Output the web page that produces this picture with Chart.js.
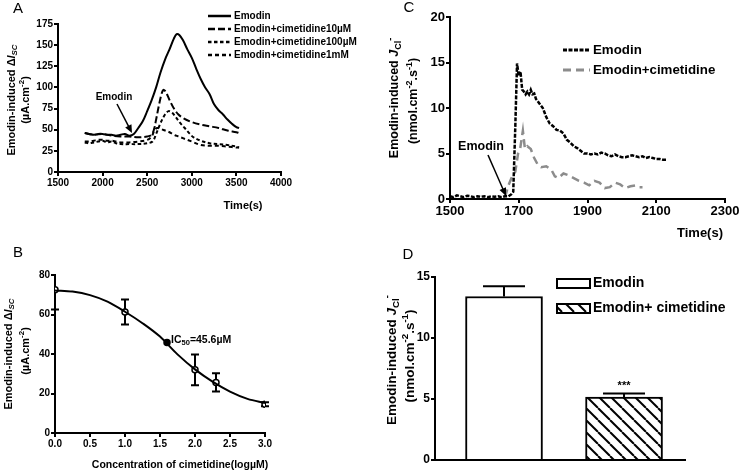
<!DOCTYPE html>
<html>
<head>
<meta charset="utf-8">
<script src="https://cdn.jsdelivr.net/npm/chart.js@4.4.1/dist/chart.umd.min.js"></script>
<style>
  body { margin: 0; background: #fff; }
  #wrap { position: relative; width: 743px; height: 474px; overflow: hidden; }
  canvas { position: absolute; }
</style>
</head>
<body>
<div id="wrap">
  <canvas id="cA" width="370" height="240" style="left:0;top:0"></canvas>
  <canvas id="cC" width="373" height="240" style="left:370px;top:0"></canvas>
  <canvas id="cB" width="370" height="234" style="left:0;top:240px"></canvas>
  <canvas id="cD" width="373" height="234" style="left:370px;top:240px"></canvas>
</div>
<script>
// ---- panel A: Isc traces, [time s, uA/cm2]
const aEmodin = [[1800,46],[1850,45],[1900,44],[1950,45],[2000,45],[2050,44],[2100,44],[2150,43],[2200,44],[2250,45],[2300,43],[2350,45],[2400,52],[2450,60],[2500,72],[2550,85],[2600,100],[2650,118],[2700,133],[2750,145],[2800,158],[2830,163],[2860,162],[2900,156],[2950,145],[3000,135],[3050,122],[3100,110],[3150,100],[3200,92],[3250,80],[3300,73],[3350,68],[3400,62],[3450,57],[3500,53],[3530,52]];
const aCim10 = [[1800,46],[1900,44],[2000,45],[2100,43],[2200,42],[2300,42],[2400,41],[2500,42],[2550,44],[2580,52],[2600,62],[2630,78],[2660,92],[2680,97],[2700,96],[2730,90],[2760,83],[2800,75],[2850,68],[2900,64],[3000,59],[3100,56],[3200,54],[3300,52],[3400,49],[3500,47],[3530,46]];
const aCim100 = [[1800,35],[1850,34],[1900,35],[1950,36],[2000,37],[2050,35],[2100,36],[2150,34],[2200,33],[2300,33],[2400,33],[2500,34],[2560,36],[2600,45],[2650,58],[2700,68],[2740,72],[2780,70],[2820,65],[2870,58],[2920,52],[2970,46],[3020,41],[3100,37],[3200,34],[3300,33],[3400,32],[3500,30],[3530,29]];
const aCim1m = [[1800,36],[1850,36],[1900,37],[1950,38],[2000,38],[2050,37],[2100,37],[2150,36],[2200,35],[2250,35],[2300,35],[2400,36],[2500,38],[2550,42],[2580,49],[2610,52],[2650,51],[2700,49],[2750,47],[2800,44],[2850,42],[2900,40],[3000,36],[3100,32],[3200,31],[3300,31],[3400,30],[3500,29],[3530,29]];
const aLabels = ['Emodin', 'Emodin+cimetidine10\u00b5M', 'Emodin+cimetidine100\u00b5M', 'Emodin+cimetidine1mM'];

// ---- panel C: Cl- flux, [time s, nmol/cm2/s]
const cEmodin = [[1500,0.3],[1510,0.2],[1520,0.4],[1530,0.3],[1540,0.2],[1550,0.35],[1560,0.3],[1570,0.2],[1580,0.3],[1590,0.25],[1600,0.3],[1610,0.2],[1620,0.3],[1630,0.25],[1640,0.3],[1650,0.2],[1660,0.3],[1670,0.3],[1678,0.5],[1684,0.8],[1690,8],[1695,14.9],[1700,13.5],[1705,14],[1710,12],[1715,11.8],[1720,11.5],[1725,11.8],[1730,11.5],[1735,12],[1740,11.5],[1745,11.6],[1750,11],[1760,10.5],[1770,10],[1775,9.5],[1780,9],[1790,8.3],[1800,8],[1810,7.6],[1820,7.5],[1830,7.2],[1840,6.5],[1850,6.2],[1860,5.8],[1870,5.6],[1880,5.3],[1890,5.0],[1900,5.0],[1910,4.9],[1920,5.0],[1930,4.9],[1940,5.1],[1950,5.0],[1960,4.8],[1970,4.7],[1980,4.9],[1990,4.7],[2000,4.6],[2010,4.6],[2020,4.7],[2030,4.8],[2040,4.7],[2050,4.6],[2060,4.7],[2070,4.5],[2080,4.6],[2090,4.5],[2100,4.4],[2110,4.4],[2120,4.3],[2130,4.3]];
const cCim = [[1660,0.2],[1670,1.5],[1680,2.4],[1690,3.0],[1698,5.0],[1704,5.5],[1712,7.5],[1718,5.5],[1725,5.8],[1735,5.5],[1745,4.5],[1755,3.8],[1765,3.5],[1780,3.6],[1795,3.2],[1805,2.5],[1815,2.3],[1830,2.8],[1845,2.6],[1860,2.3],[1875,2.0],[1890,1.8],[1905,1.5],[1920,2.0],[1935,1.8],[1950,1.2],[1965,1.3],[1980,1.8],[1995,1.6],[2010,1.2],[2025,1.4],[2040,1.5],[2050,1.3],[2060,1.3]];
const cLabels = ['Emodin', 'Emodin+cimetidine'];

// ---- panel B: dose response
const bLogConc = [0, 1, 1.6, 2, 2.3, 3];
const bMean = [72.5, 61.3, 45.8, 32, 25.6, 14.6];
const bErr = [10, 6.3, 0, 7.8, 4.6, 1];
const bFitX = [0, 0.25, 0.5, 0.75, 1, 1.25, 1.5, 1.75, 2, 2.25, 2.5, 2.75, 3];
const bFitY = [72.2, 71.6, 69.8, 66.5, 61.4, 55.6, 48.8, 39.8, 32.2, 26, 21, 17.3, 15.2];

// ---- panel D: bars
const dGroups = ['Emodin', 'Emodin+ cimetidine'];
const dMean = [13.4, 5.15];
const dErr = [0.85, 0.3];

const FONT = '"Liberation Sans", Arial, sans-serif';
const pts = arr => arr.map(p => ({x: p[0], y: p[1]}));

function rich(ctx, parts, x, y, size, rot, align) {
  ctx.save();
  ctx.translate(x, y);
  if (rot) ctx.rotate(-Math.PI / 2);
  ctx.textBaseline = 'middle';
  ctx.textAlign = 'left';
  ctx.fillStyle = '#000';
  const font = st => {
    const small = st === 'sub' || st === 'isub' || st === 'sup';
    const it = st === 'i' || st === 'isub';
    return (it ? 'italic ' : '') + 'bold ' + (small ? size * 0.72 : size) + 'px ' + FONT;
  };
  let w = 0;
  parts.forEach(p => { ctx.font = font(p[1]); w += ctx.measureText(p[0]).width; });
  let cx = align === 'left' ? 0 : -w / 2;
  parts.forEach(p => {
    ctx.font = font(p[1]);
    let dy = 0;
    if (p[1] === 'sub' || p[1] === 'isub') dy = size * 0.3;
    if (p[1] === 'sup') dy = -size * 0.38;
    ctx.fillText(p[0], cx, dy);
    cx += ctx.measureText(p[0]).width;
  });
  ctx.restore();
}

function arrow(ctx, x1, y1, x2, y2) {
  const a = Math.atan2(y2 - y1, x2 - x1);
  ctx.save();
  ctx.strokeStyle = '#000';
  ctx.fillStyle = '#000';
  ctx.lineWidth = 1.5;
  ctx.beginPath();
  ctx.moveTo(x1, y1);
  ctx.lineTo(x2 - 6 * Math.cos(a), y2 - 6 * Math.sin(a));
  ctx.stroke();
  ctx.beginPath();
  ctx.moveTo(x2, y2);
  ctx.lineTo(x2 - 8 * Math.cos(a) + 3.5 * Math.sin(a), y2 - 8 * Math.sin(a) - 3.5 * Math.cos(a));
  ctx.lineTo(x2 - 8 * Math.cos(a) - 3.5 * Math.sin(a), y2 - 8 * Math.sin(a) + 3.5 * Math.cos(a));
  ctx.closePath();
  ctx.fill();
  ctx.restore();
}

function letter(ctx, t, x, y) {
  ctx.save();
  ctx.font = '15px ' + FONT;
  ctx.fillStyle = '#000';
  ctx.textAlign = 'center';
  ctx.textBaseline = 'middle';
  ctx.fillText(t, x, y);
  ctx.restore();
}

function lineLegend(ctx, chart, x1, x2, ys, size) {
  chart.data.datasets.forEach((ds, i) => {
    ctx.save();
    ctx.strokeStyle = ds.borderColor;
    ctx.lineWidth = ds.borderWidth + 0.5;
    ctx.setLineDash(ds.borderDash || []);
    ctx.beginPath();
    ctx.moveTo(x1, ys[i]);
    ctx.lineTo(x2, ys[i]);
    ctx.stroke();
    ctx.restore();
    rich(ctx, [[ds.label, '']], x2 + 3, ys[i], size, false, 'left');
  });
}

function errBars(chart, xs, ys, es, half, upOnly) {
  const ctx = chart.ctx, sx = chart.scales.x, sy = chart.scales.y;
  ctx.save();
  ctx.strokeStyle = '#000';
  ctx.lineWidth = 2;
  xs.forEach((xv, i) => {
    if (!es[i]) return;
    const px = sx.getPixelForValue(xv);
    const top = Math.max(sy.getPixelForValue(ys[i] + es[i]), chart.chartArea.top);
    const bot = sy.getPixelForValue(upOnly ? ys[i] : ys[i] - es[i]);
    ctx.beginPath();
    ctx.moveTo(px, top); ctx.lineTo(px, bot);
    if (sy.getPixelForValue(ys[i] + es[i]) >= chart.chartArea.top) {
      ctx.moveTo(px - half, top); ctx.lineTo(px + half, top);
    }
    if (!upOnly) { ctx.moveTo(px - half, bot); ctx.lineTo(px + half, bot); }
    ctx.stroke();
  });
  ctx.restore();
}

function axes(o) {
  const tickFont = {family: FONT, size: o.fs, weight: 'bold'};
  return {
    x: {
      type: 'linear', min: o.xmin, max: o.xmax, offset: false,
      afterFit: s => { s.height = o.xh; },
      ticks: {display: o.xticks !== false, stepSize: o.xstep, color: '#000', font: tickFont, padding: 1,
        callback: o.xcb || (v => v)},
      grid: {display: o.xticks !== false, drawOnChartArea: false, drawTicks: true, tickLength: 4, color: '#000', lineWidth: 2},
      border: {color: '#000', width: 2}
    },
    y: {
      min: o.ymin, max: o.ymax,
      afterFit: s => { s.width = o.yw; },
      ticks: {stepSize: o.ystep, color: '#000', font: tickFont, padding: 1},
      grid: {drawOnChartArea: false, drawTicks: true, tickLength: 4, color: '#000', lineWidth: 2},
      border: {color: '#000', width: 2}
    }
  };
}

const base = (pad) => ({
  responsive: false,
  animation: false,
  devicePixelRatio: 1,
  layout: {padding: pad},
  plugins: {legend: {display: false}, tooltip: {enabled: false}}
});

// ---------- A ----------
new Chart(document.getElementById('cA'), {
  type: 'line',
  data: {
    datasets: [aEmodin, aCim10, aCim100, aCim1m].map((d, i) => ({
      label: aLabels[i],
      data: pts(d),
      borderColor: '#000',
      borderWidth: 2,
      borderDash: [[], [7, 3], [3.5, 2.5], [4, 3]][i],
      pointRadius: 0,
      tension: 0.35,
      fill: false
    }))
  },
  options: Object.assign(base({left: 0, top: 24, right: 89, bottom: 0}), {
    scales: axes({xmin: 1500, xmax: 4000, xstep: 500, ymin: 0, ymax: 175, ystep: 25, xh: 68, yw: 58, fs: 10})
  }),
  plugins: [{
    id: 'decoA',
    afterDraw(chart) {
      const ctx = chart.ctx;
      letter(ctx, 'A', 18, 9);
      lineLegend(ctx, chart, 208, 231, [16, 29, 42, 55], 10);
      rich(ctx, [['Emodin-induced \u0394', ''], ['I', 'i'], ['SC', 'isub']], 12, 100, 11, true);
      rich(ctx, [['(\u00b5A.cm', ''], ['-2', 'sup'], [')', '']], 26, 100, 11, true);
      rich(ctx, [['Time(s)', '']], 243, 206, 11);
      rich(ctx, [['Emodin', '']], 114, 97, 10);
      arrow(ctx, 117, 104, 132, 133);
    }
  }]
});

// ---------- C ----------
new Chart(document.getElementById('cC'), {
  type: 'line',
  data: {
    datasets: [
      {label: cLabels[0], data: pts(cEmodin), borderColor: '#000', borderWidth: 2.5, borderDash: [4, 1.5], pointRadius: 0, tension: 0},
      {label: cLabels[1], data: pts(cCim), borderColor: '#8c8c8c', borderWidth: 2.5, borderDash: [8, 5], pointRadius: 0, tension: 0}
    ]
  },
  options: Object.assign(base({left: 0, top: 17, right: 18, bottom: 0}), {
    scales: axes({xmin: 1500, xmax: 2300, xstep: 200, ymin: 0, ymax: 20, ystep: 5, xh: 41, yw: 80, fs: 13})
  }),
  plugins: [{
    id: 'decoC',
    afterDraw(chart) {
      const ctx = chart.ctx;
      letter(ctx, 'C', 39, 8);
      lineLegend(ctx, chart, 193, 220, [50, 70], 13.3);
      rich(ctx, [['Emodin-induced ', ''], ['J', 'i'], ['Cl', 'sub'], ['-', 'sup']], 25, 98, 12.5, true);
      rich(ctx, [['(nmol.cm', ''], ['-2', 'sup'], ['.s', ''], ['-1', 'sup'], [')', '']], 44, 101, 12.5, true);
      rich(ctx, [['Time(s)', '']], 330, 233, 13);
      rich(ctx, [['Emodin', '']], 111, 147, 12.5);
      arrow(ctx, 118, 155, 136, 196);
    }
  }]
});

// ---------- B ----------
new Chart(document.getElementById('cB'), {
  type: 'line',
  data: {
    datasets: [
      {data: bFitX.map((x, i) => ({x: x, y: bFitY[i]})), borderColor: '#000', borderWidth: 2, pointRadius: 0, tension: 0.4, cubicInterpolationMode: 'monotone'},
      {data: bLogConc.map((x, i) => ({x: x, y: bMean[i]})), showLine: false, pointRadius: 3, pointBorderWidth: 1.5,
        pointBorderColor: '#000', pointBackgroundColor: c => c.dataIndex === 2 ? '#000' : '#fff'}
    ]
  },
  options: Object.assign(base({left: 0, top: 35, right: 105, bottom: 0}), {
    scales: axes({xmin: 0, xmax: 3, xstep: 0.5, ymin: 0, ymax: 80, ystep: 20, xh: 41, yw: 55, fs: 10, xcb: v => v.toFixed(1)})
  }),
  plugins: [{
    id: 'decoB',
    beforeDatasetsDraw(chart) { errBars(chart, bLogConc, bMean, bErr, 4, false); },
    afterDraw(chart) {
      const ctx = chart.ctx;
      letter(ctx, 'B', 18, 13);
      rich(ctx, [['Emodin-induced \u0394', ''], ['I', 'i'], ['SC', 'isub']], 9, 114, 11, true);
      rich(ctx, [['(\u00b5A.cm', ''], ['-2', 'sup'], [')', '']], 26, 111, 11, true);
      rich(ctx, [['Concentration of cimetidine(log\u00b5M)', '']], 180, 225, 10.5);
      rich(ctx, [['IC', ''], ['50', 'sub'], ['=45.6\u00b5M', '']], 171, 100, 10.5, false, 'left');
    }
  }]
});

// ---------- D ----------
const hatch = document.createElement('canvas');
hatch.width = 12; hatch.height = 12;
(function () {
  const h = hatch.getContext('2d');
  h.fillStyle = '#fff'; h.fillRect(0, 0, 12, 12);
  h.strokeStyle = '#000'; h.lineWidth = 2;
  [-12, 0, 12].forEach(o => { h.beginPath(); h.moveTo(o, 0); h.lineTo(o + 12, 12); h.stroke(); });
})();
const dCtx = document.getElementById('cD').getContext('2d');
const hatchFill = dCtx.createPattern(hatch, 'repeat');

new Chart(dCtx, {
  type: 'bar',
  data: {
    datasets: [{
      data: dMean.map((v, i) => ({x: i + 1, y: v})),
      backgroundColor: ['#fff', hatchFill],
      borderColor: '#000',
      borderWidth: 2,
      barThickness: 77
    }]
  },
  options: Object.assign(base({left: 0, top: 37, right: 58, bottom: 0}), {
    scales: axes({xmin: 0.425, xmax: 2.508, xstep: 1, ymin: 0, ymax: 15, ystep: 5, xh: 14, yw: 65, fs: 12, xticks: false})
  }),
  plugins: [{
    id: 'decoD',
    afterDatasetsDraw(chart) { errBars(chart, [1, 2], dMean, dErr, 21, true); },
    afterDraw(chart) {
      const ctx = chart.ctx;
      letter(ctx, 'D', 38, 15);
      const box = [['#fff', 43], [hatchFill, 68]];
      box.forEach((b, i) => {
        ctx.save();
        ctx.fillStyle = b[0];
        ctx.fillRect(187, b[1] - 4, 33, 9);
        ctx.strokeStyle = '#000'; ctx.lineWidth = 2;
        ctx.strokeRect(187, b[1] - 4, 33, 9);
        ctx.restore();
        rich(ctx, [[dGroups[i], '']], 223, b[1], 14, false, 'left');
      });
      rich(ctx, [['Emodin-induced ', ''], ['J', 'i'], ['Cl', 'sub'], ['-', 'sup']], 22, 120, 13.5, true);
      rich(ctx, [['(nmol.cm', ''], ['-2', 'sup'], ['.s', ''], ['-1', 'sup'], [')', '']], 40, 116, 13.5, true);
      const sx = chart.scales.x, sy = chart.scales.y;
      rich(ctx, [['***', '']], sx.getPixelForValue(2), sy.getPixelForValue(dMean[1] + dErr[1]) - 8, 11);
    }
  }]
});
</script>
</body>
</html>
